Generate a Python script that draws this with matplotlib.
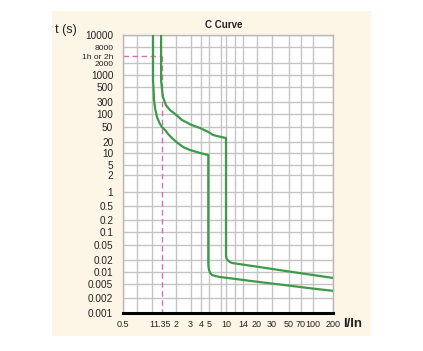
import numpy as np
import matplotlib.pyplot as plt
from matplotlib.patches import Rectangle

# axis ticks (values as printed on the chart)
x_ticks = [0.5, 1, 1.35, 2, 3, 4, 5, 10, 14, 20, 30, 50, 70, 100, 200]
x_ticklabels = ['0.5', '1', '1.35', '2', '3', '4', '5', '10', '14', '20', '30',
                '50', '70', '100', '200']
x_grid = [0.5, 0.7, 1, 2, 3, 4, 5, 8, 10, 12, 14, 20, 30, 50, 70, 100, 200]

y_ticks = [10000, 8000, 3600, 2000, 1000, 500, 300, 100, 50, 20, 10, 5, 2, 1,
           0.5, 0.2, 0.1, 0.05, 0.02, 0.01, 0.005, 0.002, 0.001]
y_ticklabels = ['10000', '8000', '1h or 2h', '2000', '1000', '500', '300', '100',
                '50', '20', '10', '5', '2', '1', '0.5', '0.2', '0.1', '0.05',
                '0.02', '0.01', '0.005', '0.002', '0.001']
y_grid = [v for v in y_ticks if v != 3600]

# lower trip curve
low_x = [1.03, 1.03, 1.045, 1.06, 1.1, 1.155, 1.24, 1.33, 1.46, 1.6, 1.78, 2.05,
         2.43, 2.9, 3.58, 4.2, 4.9, 4.9, 4.93, 5.0, 5.25, 5.65, 6.5, 7.8, 20, 50,
         100, 200]
low_y = [10000, 750, 480, 320, 150, 85, 62, 50, 41.6, 32, 25.5, 19.5, 14.6, 12.2,
         10.6, 9.6, 8.9, 0.0178, 0.0135, 0.0112, 0.0095, 0.0084, 0.0079, 0.0075,
         0.0057, 0.0045, 0.0037, 0.0032]

# upper trip curve
up_x = [1.30, 1.30, 1.33, 1.37, 1.5, 1.68, 1.95, 2.36, 3.0, 3.9, 4.9, 5.9, 7.5,
        10, 10, 10.1, 10.4, 10.8, 11.3, 20, 50, 100, 200]
up_y = [10000, 750, 480, 356, 220, 144, 100, 72.6, 57, 47, 37, 30.7, 28, 25.5,
        0.027, 0.022, 0.0195, 0.0178, 0.0168, 0.0136, 0.0103, 0.0084, 0.0071]

# conventional time / current marker
mark_x = 1.35
mark_y = 3600

# the printed chart is not an exact log grid: piecewise scale through gridlines
x_anchor = [0.5, 1, 2, 5, 10, 14, 20, 30, 50, 100, 200]
x_anchor_pos = [123, 152, 176, 209, 226, 243, 257, 272, 289, 313, 333]
y_anchor = [0.001, 0.002, 0.005, 0.01, 0.02, 0.05, 0.1, 0.2, 0.5, 1, 2, 5, 10,
            20, 50, 100, 300, 500, 1000, 2000, 8000, 10000]
y_anchor_pos = [313, 298, 284, 272, 260, 245, 232, 220, 206, 192, 175, 165, 153,
                142, 127, 114, 102, 87, 75, 63, 47, 35]


def piecewise(vals, pos):
    lv = np.log10(vals)
    p = np.asarray(pos, float)
    s0 = (p[1] - p[0]) / (lv[1] - lv[0])
    s1 = (p[-1] - p[-2]) / (lv[-1] - lv[-2])
    lv = np.concatenate([[lv[0] - 20], lv, [lv[-1] + 20]])
    p = np.concatenate([[p[0] - 20 * s0], p, [p[-1] + 20 * s1]])

    def fwd(v):
        v = np.clip(np.asarray(v, float), 1e-15, None)
        return np.interp(np.log10(v), lv, p)

    def inv(u):
        return 10 ** np.interp(np.asarray(u, float), p, lv)
    return fwd, inv


plt.rcParams['font.family'] = ['Liberation Sans', 'DejaVu Sans']

W, H = 423, 351
fig = plt.figure(figsize=(W / 100, H / 100), dpi=100)
fig.patch.set_facecolor('white')
fig.patches.append(Rectangle((52 / W, 1 - 336 / H), (371 - 52) / W, (336 - 11) / H,
                             transform=fig.transFigure, facecolor='#fdf6e7',
                             edgecolor='none', zorder=-5))

ax = fig.add_axes([123 / W, 1 - 313 / H, (333 - 123) / W, (313 - 35) / H])
ax.set_facecolor('white')

ax.set_xscale('function', functions=piecewise(x_anchor, x_anchor_pos))
ax.set_yscale('function', functions=piecewise(y_anchor, [H - p for p in y_anchor_pos]))
ax.set_xlim(0.5, 200)
ax.set_ylim(0.001, 10000)

# grid
for v in x_grid:
    ax.axvline(v, color='#c4c4c4', lw=1, zorder=1)
for v in y_grid:
    ax.axhline(v, color='#c4c4c4', lw=1, zorder=1)

ax.set_xticks(x_ticks)
ax.set_xticklabels(x_ticklabels, family=['Liberation Sans Narrow', 'Liberation Sans'])
ax.set_yticks(y_ticks)
ax.set_yticklabels(y_ticklabels)
ax.minorticks_off()
ax.tick_params(which='both', length=0)
ax.tick_params(axis='x', labelsize=6.5, pad=5, colors='#222222')
ax.tick_params(axis='y', labelsize=7.2, pad=7, colors='#222222')
# the crowded labels at the top are set a little smaller
for lab in ax.get_yticklabels():
    if lab.get_text() in ('8000', '1h or 2h', '2000'):
        lab.set_fontsize(6.1)

for s in ['left', 'top', 'right']:
    ax.spines[s].set_color('#b8b8b8')
    ax.spines[s].set_linewidth(1)
ax.spines['bottom'].set_color('black')
ax.spines['bottom'].set_linewidth(2.2)

green = '#3d9a4a'
ax.plot(low_x, low_y, color=green, lw=1.6, solid_joinstyle='round', zorder=3)
ax.plot(up_x, up_y, color=green, lw=1.6, solid_joinstyle='round', zorder=3)

pink = '#d070b8'
ax.plot([0.5, mark_x], [mark_y, mark_y], color=pink, lw=1, ls=(0, (4, 2.5)), zorder=2)
ax.plot([mark_x, mark_x], [mark_y, 0.001], color=pink, lw=1, ls=(0, (4, 2.5)), zorder=2)

fig.text(224 / W, 1 - 25 / H, 'C Curve', ha='center', va='center',
         fontsize=7, fontweight='bold', color='#222222')
fig.text(55 / W, 1 - 30 / H, 't (s)', ha='left', va='center', fontsize=9,
         color='#222222')
fig.text(343 / W, 1 - 324 / H, 'I/In', ha='left', va='center', fontsize=9.5,
         fontweight='bold', color='#222222')

fig.savefig('out.png', dpi=100, facecolor='white')
